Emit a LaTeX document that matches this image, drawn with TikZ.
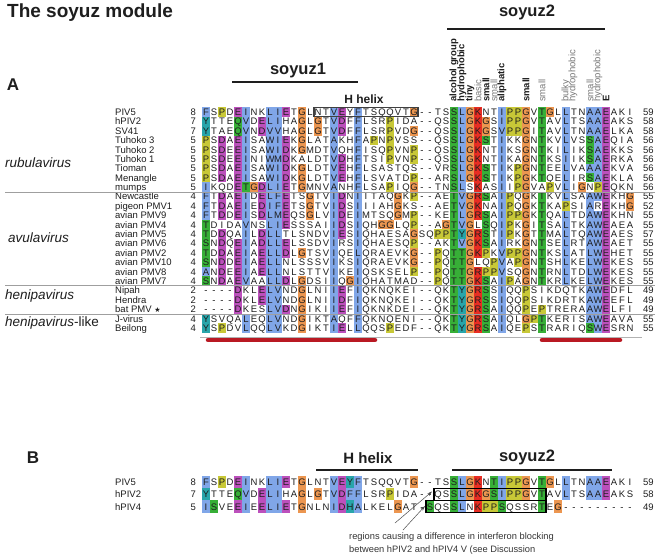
\documentclass[tikz,border=0pt]{standalone}
\usepackage{fontspec}
\setmainfont{Liberation Sans}
\newfontfamily\symf{DejaVu Sans}
\usetikzlibrary{arrows.meta}
\definecolor{cb}{RGB}{128,166,232}
\definecolor{cm}{RGB}{188,80,188}
\definecolor{cg}{RGB}{55,175,55}
\definecolor{cr}{RGB}{232,45,35}
\definecolor{co}{RGB}{236,150,80}
\definecolor{cy}{RGB}{200,200,55}
\definecolor{cc}{RGB}{40,165,170}
\definecolor{barred}{RGB}{185,25,35}
\definecolor{txt}{RGB}{30,30,30}
\definecolor{lbl}{RGB}{120,120,120}

\newcount\colno
\def\rowy{0}\def\rowh{9.4}\def\rowid{}
\def\setrule#1#2#3{\def\SRcol{#1}\def\SRcolor{#3}\SRloop#2\relax}
\def\SRloop#1{\ifx#1\relax\else\expandafter\edef\csname rl\SRcol:#1\endcsname{\SRcolor}\expandafter\SRloop\fi}
\def\override#1#2#3{\expandafter\def\csname ov#1:#2\endcsname{#3}}
\def\getcc#1{%
  \ifx G#1\def\cc{o}\else
  \ifx P#1\def\cc{y}\else
  \ifcsname rl\the\colno:#1\endcsname
    \edef\cc{\csname rl\the\colno:#1\endcsname}%
  \else\def\cc{w}\fi\fi\fi
  \ifcsname ov\rowid:\the\colno\endcsname
    \edef\cc{\csname ov\rowid:\the\colno\endcsname}\fi}
\def\drawcell#1{%
  \if w\cc\else
    \fill[fill=c\cc] ({194+8*\the\colno},{\rowy-\rowh/2}) rectangle ({202+8*\the\colno},{\rowy+\rowh/2});
  \fi
  \node[resid] (\rowid c\the\colno) at ({198+8*\the\colno},\rowy) {#1};}
\def\walkA#1#2\sqend{%
  \global\advance\colno by 1
  \getcc{#1}\drawcell{#1}%
  \ifx\relax#2\relax\else\walkA#2\sqend\fi}
\def\walkB#1#2\sqend#3#4\sqend{%
  \global\advance\colno by 1
  \def\cc{#3}\drawcell{#1}%
  \ifx\relax#2\relax\else\walkB#2\sqend#4\sqend\fi}
\newcommand\seqrowA[6]{%
  \def\rowid{#1}\def\rowy{#2}\global\colno=0
  \node[nm] (#1n) at (115,#2) {#3};
  \node[num,anchor=east] (#1s) at (196,#2) {#4};
  \walkA#5\sqend
  \node[num,anchor=west] (#1e) at (643,#2) {#6};}
\newcommand\seqrowB[7]{%
  \def\rowid{#1}\def\rowy{#2}\global\colno=0
  \node[nm] (#1n) at (115,#2) {#3};
  \node[num,anchor=east] (#1s) at (196,#2) {#4};
  \walkB#5\sqend#6\sqend
  \node[num,anchor=west] (#1e) at (643,#2) {#7};}

% column colouring rules for panel A
\setrule{1}{FIAVLMW}{b}\setrule{1}{YH}{c}\setrule{1}{TS}{g}
\setrule{3}{DE}{m}
\setrule{5}{ED}{m}\setrule{5}{Q}{g}
\setrule{6}{IVL}{b}\setrule{6}{T}{g}
\setrule{8}{DE}{m}
\setrule{9}{LVWIMAF}{b}
\setrule{10}{LVWIMAF}{b}
\setrule{11}{ED}{m}
\setrule{17}{VAIL}{b}
\setrule{18}{DE}{m}
\setrule{20}{FILV}{b}
\setrule{32}{ST}{g}
\setrule{33}{LVIM}{b}\setrule{33}{TS}{g}\setrule{33}{Y}{c}
\setrule{35}{KR}{r}
\setrule{36}{ST}{g}
\setrule{38}{IVL}{b}
\setrule{43}{TS}{g}
\setrule{46}{LIV}{b}
\setrule{49}{ALV}{b}\setrule{49}{ST}{g}
\setrule{50}{ALW}{b}
\setrule{51}{E}{m}

\tikzset{
  resid/.style={inner sep=0pt,text height=6.8pt,text depth=0pt,font=\fontsize{9.5}{10}\selectfont,text=txt},
  nm/.style={resid,anchor=west},
  num/.style={resid},
  lab/.style={rotate=90,anchor=west,inner sep=0pt,font=\fontsize{9.5}{10}\selectfont\bfseries,text=txt},
  labg/.style={lab,font=\fontsize{9.5}{10}\selectfont,text=lbl},
  head/.style={inner sep=0pt,font=\fontsize{16.5}{18}\selectfont\bfseries,text=txt},
  grp/.style={inner sep=0pt,anchor=west,font=\fontsize{13.5}{15}\selectfont,text=txt},
  sepline/.style={draw=gray!75,line width=0.6pt},
  barline/.style={line width=1.8pt,draw=txt},
  hbox/.style={draw=txt!85,line width=1.2pt},
  bbox/.style={draw=black,line width=1.1pt},
  note/.style={inner sep=0pt,anchor=west,font=\fontsize{9.3}{11}\selectfont,text=txt!90},
  arr/.style={draw=txt!80,line width=0.5pt,-{Stealth[length=5pt,width=3pt]}}
}

\begin{document}
\begin{tikzpicture}[x=1pt,y=-1pt]
\useasboundingbox (0,0) rectangle (661,557);
\fill[white] (0,0) rectangle (661,557);

% headers panel A
\node[inner sep=0pt,anchor=west,font=\fontsize{19}{21}\selectfont\bfseries,text=txt] (title) at (7,13) {The soyuz module};
\node[head,font=\fontsize{17}{19}\selectfont\bfseries] (labA) at (13,85) {A};
\node[head] (s1) at (298,71) {soyuz1};
\coordinate (s1l) at (232,82); \coordinate (s1r) at (358,82);
\draw[barline] (s1l) -- (s1r);
\node[head] (s2) at (527,12) {soyuz2};
\coordinate (s2l) at (447,29); \coordinate (s2r) at (605,29);
\draw[barline] (s2l) -- (s2r);
\node[inner sep=0pt,font=\fontsize{12}{14}\selectfont\bfseries,text=txt] (hh) at (364,99) {H helix};

% property labels
\node[lab] (p1) at (454,102) {alcohol group};
\node[lab] (p2) at (462,102) {hydrophobic};
\node[lab] (p3) at (470,102) {tiny};
\node[labg] (p4) at (478,102) {basic};
\node[lab] (p5) at (486,102) {small};
\node[labg] (p6) at (494,102) {small};
\node[lab] (p7) at (502,102) {aliphatic};
\node[lab] (p8) at (526,102) {small};
\node[labg] (p9) at (542,102) {small};
\node[labg] (p10) at (566,102) {bulky};
\node[labg] (p11) at (573,102) {hydrophobic};
\node[labg] (p12) at (590,102) {small};
\node[labg] (p13) at (598,102) {hydrophobic};
\node[lab] (p14) at (606,102) {E};

% group labels
\node[grp] (g1) at (5,163) {\textit{rubulavirus}};
\node[grp] (g2) at (8,238) {\textit{avulavirus}};
\node[grp] (g3) at (5,296) {\textit{henipavirus}};
\node[grp] (g4) at (5,323) {\textit{henipavirus}-like};

% panel A rows
\seqrowA{a1}{112.0}{PIV5}{8}{FSPDEINKLIETGLNTVEYFTSQQVTG--TSSLGKNTIPPGVTGLLTNAAEAKI}{59}
\seqrowA{a2}{121.4}{hPIV2}{7}{YTTEQVDELIHAGLGTVDFFLSRPIDA--QSSLGKGSIPPGVTAVLTSAAEAKS}{58}
\seqrowA{a3}{130.8}{SV41}{7}{YTAEQVNDVVHAGLGTVDFFLSRPVDG--QSSLGKGSVPPGITAVLTNAAELKA}{58}
\seqrowA{a4}{140.2}{Tuhoko 3}{5}{PSDAEISAWIEKGLATAKHFAPNPVSS--QSSLGKSTIKKGNTKVLVSSAEQIA}{56}
\seqrowA{a5}{149.6}{Tuhoko 2}{5}{PSDEEISAWIDKGMDTVQHFISQPVNP--QSSLGKNTIKSGNTKILIKSAEKKS}{56}
\seqrowA{a6}{158.9}{Tuhoko 1}{5}{PSDEEINIWMDKALDTVDHFTSIPVNP--QSSLGKNTIKAGNTKSIIKSAERKA}{56}
\seqrowA{a7}{168.3}{Tioman}{5}{PSDAEISAWIDKGLDTVEHFLSASTQS--VRSLGKSTIKPGNTEELVAAAEKVA}{56}
\seqrowA{a8}{177.7}{Menangle}{5}{PSDAEISAWIDKGLDTVEHFLSVATDP--ARSLGKSTIKPGKTQELIRSAEKLA}{56}
\seqrowA{a9}{187.1}{mumps}{5}{IKQDETGDLIETGMNVANHFLSAPIQG--TNSLSKASIIPGVAPVLIGNPEQKN}{56}
\seqrowA{a10}{196.5}{Newcastle}{4}{FTDAEIDELFETSGTVIDNIITAQGKP--AETVGRSAIPQGKTKVLSAAWEKHG}{55}
\seqrowA{a11}{205.9}{pigeon PMV1}{4}{FTDAEIEDIFETSGTVIDSIIIAHGKS--AETVGKNAIPQGKTKAPSIAREKHG}{52}
\seqrowA{a12}{215.3}{avian PMV9}{4}{FTDDEISDLMEQSGLVIDEIMTSQGMP--KETLGRSAIPPGKTQALTDAWEKHN}{55}
\seqrowA{a13}{224.7}{avian PMV4}{4}{TDIDAVNSLIESSSAIIDSIQHGGLQP--AGTVGLSQIPKGITSALTKAWEAEA}{55}
\seqrowA{a14}{234.1}{avian PMV5}{4}{TDDQAILDLLTLSNDVIESIQHAESAGSQPPTYGRSTIPKGTTMALTQAWEAES}{57}
\seqrowA{a15}{243.5}{avian PMV6}{4}{SNDQEIADLLELSSDVIRSIQHAESQP--AKTVGKSAIRKGNTSELRTAWEAET}{55}
\seqrowA{a16}{252.9}{avian PMV2}{4}{TDDAEIAELLDLGTSVIQELQRAEVKG--PQTTGKPKVPPGNTKSLATLWEHET}{55}
\seqrowA{a17}{262.2}{avian PMV10}{4}{SNDDEIAELLNLSSSVIKSIQRAEVKG--PQTTGLQPVAPGNTSHLKELWEKES}{55}
\seqrowA{a18}{271.6}{avian PMV8}{4}{ANDEEIAELLNLSTTVIKEIQSKSELP--PQTTGRPPVSQGNTRNLTDLWEKES}{55}
\seqrowA{a19}{281.0}{avian PMV7}{4}{SNDAEVAALLDLGDSIIQGIQHATMAD--PQTTGKSAIPAGNTKRLKELWEKES}{55}
\seqrowA{a20}{290.4}{Nipah}{2}{----DKLELVNDGLNIIEFIQKNQKEI--QKTYGRSSIQQPSIKDQTKAWEDFL}{49}
\seqrowA{a21}{299.8}{Hendra}{2}{----DKLELVNDGLNIIDFIQKNQKEI--QKTYGRSSIQQPSIKDRTKAWEEFL}{49}
\seqrowA{a22}{309.2}{bat PMV {\symf\fontsize{7}{8}\selectfont ★}}{2}{----DKESLVDNGIKIIEFIQKNKDEI--QKTYGRSAIQQPEPTRERAAWELFI}{49}
\seqrowA{a23}{318.6}{J-virus}{4}{YSVQALEQLVNDGIKTAQFFQKNQENI--QKTYGRSAIQLGPTKERISAWEAVA}{55}
\seqrowA{a24}{328.0}{Beilong}{4}{YSPDVLQQLVKDGIKTIELLQQSPEDF--QKTYGRSAIQEPSTRARIQSWESRN}{55}

% H helix box panel A
\draw[hbox] (314,107.3) rectangle (418,116.7);

% separators
\draw[sepline] (5,191.8) -- (655,191.8);
\draw[sepline] (5,285.7) -- (655,285.7);
\draw[sepline] (5,313.9) -- (655,313.9);

% bottom bars
\draw[draw=gray!60,line width=0.7pt] (200,337) -- (642,337);
\draw[draw=barred,line width=4.5pt,line cap=round] (208,340) -- (375,340);
\draw[draw=barred,line width=4.5pt,line cap=round] (542,340) -- (620,340);

% panel B
\node[head,font=\fontsize{17}{19}\selectfont\bfseries] (labB) at (33,458) {B};
\node[inner sep=0pt,font=\fontsize{15}{17}\selectfont\bfseries,text=txt] (hhB) at (368,458) {H helix};
\coordinate (hBl) at (316,470); \coordinate (hBr) at (418,470);
\draw[barline] (hBl) -- (hBr);
\node[head] (s2B) at (527,457) {soyuz2};
\coordinate (sBl) at (452,470); \coordinate (sBr) at (612,470);
\draw[barline] (sBl) -- (sBr);

\def\rowh{12.3}
\seqrowB{b1}{482.0}{PIV5}{8}{FSPDEINKLIETGLNTVEYFTSQQVTG--TSSLGKNTIPPGVTGLLTNAAEAKI}{bwywmbwwbbmwowwwbmcbwwwwwwowwwwgborwgbyyowgowbwwbbmwww}{59}
\seqrowB{b2}{494.3}{hPIV2}{7}{YTTEQVDELIHAGLGTVDFFLSRPIDA--QSSLGKGSIPPGVTAVLTSAAEAKS}{cwwwgbwmbbwwowowbmbbwwwywwwwwwwgborogbyyowgwwbwwbbmwww}{58}
\seqrowB{b3}{506.6}{hPIV4}{5}{ISVEEIEELIETGNLNIDHALKELGAT-SQSSLNKPPSQSSRTEG---------}{bgwwmbwmbbmwowwwbmcbwwwwowwwgwwgbwryygwwwwgwowwwwwwwww}{49}

\draw[bbox] (434,488.15) rectangle (546,500.45);
\draw[bbox] (426,500.45) rectangle (546,512.75);

\coordinate (t1) at (432,491.5);
\coordinate (t2) at (425,506);
\coordinate (a1) at (395,523);
\coordinate (a2) at (403,530);
\draw[arr] (a1) -- (t1);
\draw[arr] (a2) -- (t2);
\node[note] (n1) at (349,537) {regions causing a difference in interferon blocking};
\node[note] (n2) at (349,550) {between hPIV2 and hPIV4 V (see Discussion};
\end{tikzpicture}
\end{document}
